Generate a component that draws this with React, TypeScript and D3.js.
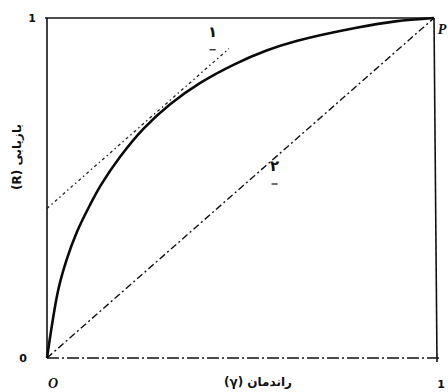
import React, { useEffect, useRef } from 'react';
import * as d3 from 'd3';

// concave curve (efficiency vs recovery)
const curveX = [0, 0.029, 0.051, 0.077, 0.111, 0.14, 0.189, 0.249, 0.319, 0.396, 0.483, 0.569, 0.647, 0.803, 0.9, 1];
const curveY = [0, 0.2, 0.29, 0.37, 0.45, 0.51, 0.592, 0.674, 0.747, 0.809, 0.863, 0.905, 0.933, 0.972, 0.99, 1];

// line 1: tangent parallel to the diagonal
const line1X = [0, 0.47];
const line1Y = [0.44, 0.91];

// line 2: diagonal O -> P
const line2X = [0, 1];
const line2Y = [0, 1];

const yTicks = ['0', '1'];
const xTickEnd = '1';
const xLabel = 'راندمان (γ)';
const yLabel = 'بازیابی (R)';
const lineNames = ['۱', '۲'];

const App = () => {
  const ref = useRef(null);

  useEffect(() => {
    const svg = d3.select(ref.current);
    svg.selectAll('*').remove();

    const x = d3.scaleLinear().domain([0, 1]).range([47, 434]);
    const y = d3.scaleLinear().domain([0, 1]).range([358, 18]);

    const line = d3.line<[number, number]>()
      .x(d => x(d[0]))
      .y(d => y(d[1]));

    // frame: left, top, right solid; bottom dash-dot
    const frame = svg.append('g').attr('stroke', '#111').attr('fill', 'none');
    frame.append('line')
      .attr('x1', x(0)).attr('x2', x(0))
      .attr('y1', y(0)).attr('y2', y(1))
      .attr('stroke-width', 1.6);
    frame.append('line')
      .attr('x1', x(0) - 2).attr('x2', x(1))
      .attr('y1', y(1)).attr('y2', y(1))
      .attr('stroke-width', 1.6);
    frame.append('line')
      .attr('x1', x(1)).attr('x2', x(1) + 3)
      .attr('y1', y(1)).attr('y2', y(0) + 4)
      .attr('stroke-width', 1.6);
    frame.append('line')
      .attr('x1', x(0)).attr('x2', x(1) + 6)
      .attr('y1', y(0)).attr('y2', y(0))
      .attr('stroke-width', 1.4)
      .attr('stroke-dasharray', '12,3,2,3');

    // diagonal (2)
    svg.append('path')
      .datum(d3.zip(line2X, line2Y) as [number, number][])
      .attr('d', line)
      .attr('fill', 'none')
      .attr('stroke', '#111')
      .attr('stroke-width', 1.4)
      .attr('stroke-dasharray', '7,3,2,3');

    // tangent (1)
    svg.append('path')
      .datum(d3.zip(line1X, line1Y) as [number, number][])
      .attr('d', line)
      .attr('fill', 'none')
      .attr('stroke', '#222')
      .attr('stroke-width', 1.3)
      .attr('stroke-dasharray', '3,3,1.5,3');

    // main curve
    svg.append('path')
      .datum(d3.zip(curveX, curveY) as [number, number][])
      .attr('d', line.curve(d3.curveCatmullRom.alpha(0.5)))
      .attr('fill', 'none')
      .attr('stroke', '#0a0a0a')
      .attr('stroke-width', 2.6);

    const txt = svg.append('g')
      .attr('fill', '#111')
      .attr('font-family', 'DejaVu Sans, sans-serif')
      .attr('font-weight', 'bold');

    // tick labels
    txt.append('text').attr('x', 32).attr('y', y(1) + 4)
      .attr('text-anchor', 'middle').attr('font-size', 11).text(yTicks[1]);
    txt.append('text').attr('x', 23).attr('y', y(0) + 4)
      .attr('text-anchor', 'middle').attr('font-size', 11).text(yTicks[0]);
    txt.append('text').attr('x', x(1) + 7).attr('y', 388)
      .attr('text-anchor', 'middle').attr('font-size', 11).text(xTickEnd);

    // point names
    txt.append('text').attr('x', x(0) + 6).attr('y', 388)
      .attr('text-anchor', 'middle').attr('font-size', 14)
      .attr('font-family', 'Liberation Serif, serif').attr('font-style', 'italic')
      .text('O');
    txt.append('text').attr('x', x(1) + 8).attr('y', y(1) + 16)
      .attr('text-anchor', 'middle').attr('font-size', 14)
      .attr('font-family', 'Liberation Serif, serif').attr('font-style', 'italic')
      .text('P');

    // line names with underline bar
    const names: [string, number, number][] = [
      [lineNames[0], x(0.428), y(0.945)],
      [lineNames[1], x(0.588), y(0.55)],
    ];
    names.forEach(([t, cx, cy]) => {
      txt.append('text').attr('x', cx).attr('y', cy)
        .attr('text-anchor', 'middle').attr('font-size', 15).text(t);
      svg.append('line')
        .attr('x1', cx - 3).attr('x2', cx + 3)
        .attr('y1', cy + 13).attr('y2', cy + 13)
        .attr('stroke', '#333').attr('stroke-width', 1.4);
    });

    // axis titles
    txt.append('text')
      .attr('x', 258).attr('y', 386)
      .attr('text-anchor', 'middle')
      .attr('direction', 'rtl')
      .attr('font-size', 12)
      .text(xLabel);
    txt.append('text')
      .attr('transform', 'translate(21, 157) rotate(-90)')
      .attr('text-anchor', 'middle')
      .attr('direction', 'rtl')
      .attr('font-size', 12)
      .text(yLabel);
  }, []);

  return (
    <svg
      ref={ref}
      width={448}
      height={392}
      style={{ position: 'absolute', left: 0, top: 0, background: '#fff' }}
    />
  );
};

export default App;
